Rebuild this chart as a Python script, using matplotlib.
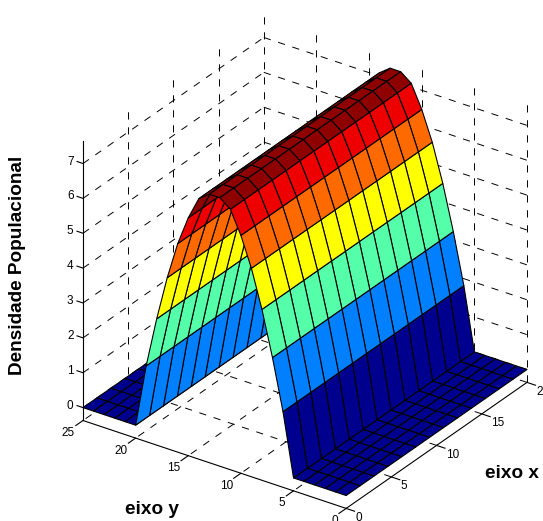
import numpy as np
import matplotlib
matplotlib.use('Agg')
import matplotlib.pyplot as plt
from matplotlib.colors import ListedColormap, BoundaryNorm
from mpl_toolkits.mplot3d import proj3d

plt.rcParams['font.family'] = ['Liberation Sans', 'DejaVu Sans']
plt.rcParams['lines.scale_dashes'] = False

# grid of the surface
x_grid = [0, 1.54, 3.08, 4.62, 6.15, 7.69, 9.23, 10.77, 12.31, 13.85, 15.38, 16.92, 18.46, 20]
y_grid = list(range(26))
# density across y, the same for every x
density = [0, 0, 0, 0, 0, 0, 1.8, 3.25, 4.53, 5.61, 6.45, 7.1, 7.33,
           7.33, 7.1, 6.45, 5.61, 4.53, 3.25, 1.8, 0, 0, 0, 0, 0, 0]

x_ticks = [0, 5, 10, 15, 20]
y_ticks = [0, 5, 10, 15, 20, 25]
z_ticks = [0, 1, 2, 3, 4, 5, 6, 7]
z_low, z_high = -0.37, 7.64

colors = ['#00008F', '#0080FF', '#55FFAA', '#FFFF00', '#FF6A00', '#EE0000', '#8F0000']
levels = [-1, 1, 2.5, 4, 5, 6, 7, 8]

W, H = 543, 521
fig = plt.figure(figsize=(W / 100, H / 100), dpi=100)
ax = fig.add_axes([-0.5, -0.5, 2, 2], projection='3d', proj_type='ortho', computed_zorder=False)
ax.set_axis_off()
ax.set_xlim(0, 20)
ax.set_ylim(0, 25)
ax.set_zlim(z_low, z_high)
ax.view_init(elev=28.85, azim=214.7)
aspect = (317.6, 320, 318.8)
ax.set_box_aspect(aspect)


def to_px(x, y, z):
    px, py, _ = proj3d.proj_transform(x, y, z, ax.get_proj())
    return ax.transData.transform((px, py))


# scale and shift the axes so the box corners land where they should
fig.canvas.draw()
a = to_px(0, 25, z_low)
b = to_px(20, 0, z_low)
ax.set_box_aspect(aspect, zoom=(527 - 83) / (b[0] - a[0]))
fig.canvas.draw()
a = to_px(0, 25, z_low)
pos = ax.get_position()
ax.set_position([pos.x0 + (83 - a[0]) / W, pos.y0 + (H - 420.5 - a[1]) / H, pos.width, pos.height])
fig.canvas.draw()

dash = {'color': 'black', 'lw': 0.7, 'dashes': (5.2, 5.6), 'zorder': 1}
solid = {'color': 'black', 'lw': 0.8, 'zorder': 3}

# dashed grid on the two walls and the floor
for z in z_ticks:
    ax.plot([0, 20], [25, 25], [z, z], **dash)
    ax.plot([20, 20], [25, 0], [z, z], **dash)
for x in x_ticks[1:]:
    ax.plot([x, x], [25, 25], [z_low, z_high], **dash)
    ax.plot([x, x], [25, 0], [z_low, z_low], **dash)
for y in y_ticks[:-1]:
    ax.plot([20, 20], [y, y], [z_low, z_high], **dash)
for y in y_ticks[1:]:
    ax.plot([20, 0], [y, y], [z_low, z_low], **dash)

# surface, flat colour per cell
X, Y = np.meshgrid(x_grid, y_grid)
Z = np.tile(np.array(density)[:, None], (1, len(x_grid)))
cmap = ListedColormap(colors)
norm = BoundaryNorm(levels, cmap.N)
ax.plot_surface(X, Y, Z, rstride=1, cstride=1, facecolors=cmap(norm(Z)), shade=False,
                edgecolor='black', linewidth=0.8, antialiased=True, zorder=2)

# axis lines and ticks
ax.plot([0, 0], [25, 25], [z_low, z_high], **solid)
ax.plot([0, 0], [25, 0], [z_low, z_low], **solid)
ax.plot([0, 20], [0, 0], [z_low, z_low], **solid)
for z in z_ticks:
    ax.plot([0, 0], [25, 25.57], [z, z], **solid)
for x in x_ticks:
    ax.plot([x, x], [0, -0.8], [z_low, z_low], **solid)
for y in y_ticks:
    ax.plot([0, -0.8], [y, y], [z_low, z_low], **solid)


def tick_label(text, pt, dx, dy, ha):
    xy = proj3d.proj_transform(pt[0], pt[1], pt[2], ax.get_proj())[:2]
    ax.annotate(text, xy=xy, xytext=(dx * 0.72, dy * 0.72), textcoords='offset points',
                ha=ha, va='center', fontsize=8.5, annotation_clip=False)


for z in z_ticks:
    tick_label(str(z), (0, 25, z), -9.5, 2, 'right')
for x in x_ticks:
    tick_label(str(x), (x, 0, z_low), 9.5, -9.5, 'left')
for y in y_ticks:
    tick_label(str(y), (0, y, z_low), -8, -12.5, 'right')

fig.text(18 / W, 1 - 265 / H, 'Densidade Populacional', rotation=90, ha='center', va='center',
         fontsize=13.7, fontweight='bold')
fig.text(152 / W, 1 - 509 / H, 'eixo y', ha='center', va='center', fontsize=13.7, fontweight='bold')
fig.text(512 / W, 1 - 473 / H, 'eixo x', ha='center', va='center', fontsize=13.7, fontweight='bold')

fig.savefig('out.png', dpi=100)
